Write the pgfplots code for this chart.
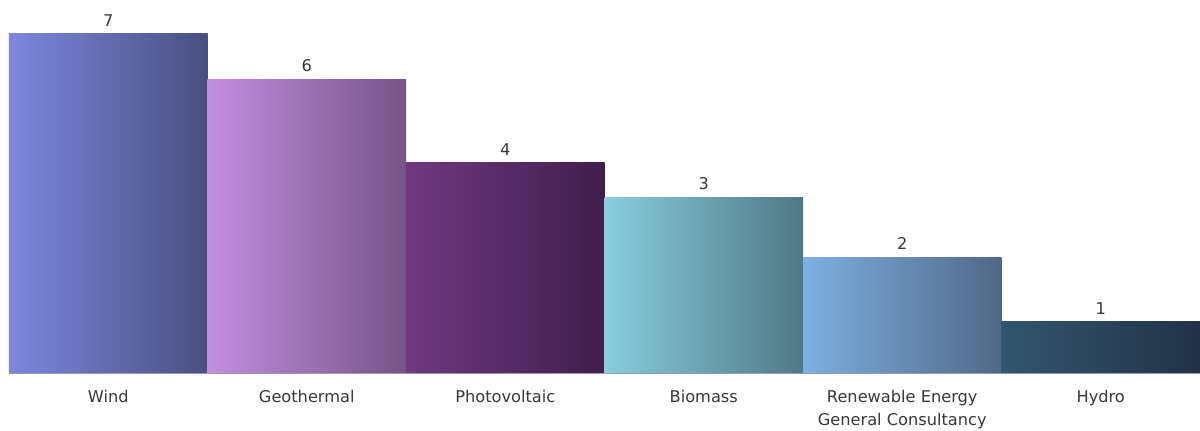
\documentclass[border=0pt]{standalone}
\usepackage{pgfplots}
\pgfplotsset{compat=1.18}
\usepackage{fontspec}
\setmainfont{DejaVu Sans}
\definecolor{txt}{RGB}{55,55,60}
\definecolor{baseline}{RGB}{150,155,165}
\definecolor{wA}{RGB}{125,135,222}\definecolor{wB}{RGB}{72,80,128}
\definecolor{gA}{RGB}{196,142,226}\definecolor{gB}{RGB}{118,84,134}
\definecolor{pA}{RGB}{112,56,128}\definecolor{pB}{RGB}{64,30,76}
\definecolor{bA}{RGB}{136,206,222}\definecolor{bB}{RGB}{80,120,134}
\definecolor{rA}{RGB}{126,176,226}\definecolor{rB}{RGB}{80,104,134}
\definecolor{hA}{RGB}{50,86,112}\definecolor{hB}{RGB}{34,50,70}
\begin{document}
\begin{tikzpicture}
\useasboundingbox (-4.5pt,-28.25pt) rectangle (595.5pt,186.75pt);
\begin{axis}[
  at={(0,0)}, anchor=south west,
  scale only axis,
  width=595.5pt, height=186.75pt,
  xmin=-0.5, xmax=5.5, ymin=0, ymax=373.5,
  axis y line=none,
  axis x line*=bottom,
  x axis line style={-, draw=baseline, line width=0.6pt},
  axis on top,
  xtick={0,1,2,3,4,5},
  xticklabels={Wind,Geothermal,Photovoltaic,Biomass,{Renewable Energy\\General Consultancy},Hydro},
  major tick length=0pt,
  xticklabel style={font=\fontsize{8.1}{11.3}\selectfont, text=txt, align=center, anchor=north, yshift=-5pt},
  ybar, bar width=99.25pt, bar shift=0pt,
  point meta=explicit symbolic,
  nodes near coords,
  nodes near coords style={font=\fontsize{8.1}{9}\selectfont, text=txt, anchor=south, inner sep=3.5pt},
  clip=false,
]
\addplot[draw=none, left color=wA, right color=wB] coordinates {(0,340) [7]};
\addplot[draw=none, left color=gA, right color=gB] coordinates {(1,294.5) [6]};
\addplot[draw=none, left color=pA, right color=pB] coordinates {(2,211) [4]};
\addplot[draw=none, left color=bA, right color=bB] coordinates {(3,176) [3]};
\addplot[draw=none, left color=rA, right color=rB] coordinates {(4,116.5) [2]};
\addplot[draw=none, left color=hA, right color=hB] coordinates {(5,52) [1]};
\end{axis}
\end{tikzpicture}
\end{document}
